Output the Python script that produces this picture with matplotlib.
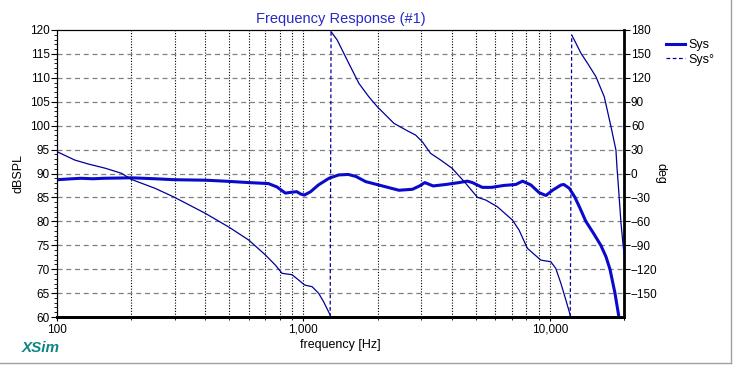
import numpy as np
import matplotlib
matplotlib.use("Agg")
import matplotlib.pyplot as plt
from matplotlib.ticker import FixedLocator, NullFormatter, FixedFormatter
from matplotlib.lines import Line2D

plt.rcParams['font.family'] = ['Liberation Sans', 'DejaVu Sans']

# Magnitude (Sys) dB SPL
mag_f = [100, 115, 125, 140, 155, 200, 250, 300, 400, 480, 600, 720, 780, 845, 900, 940,
         975, 1010, 1070, 1150, 1270, 1390, 1520, 1630, 1790, 2020, 2440, 2770, 2960, 3110,
         3360, 3780, 4280, 4630, 4850, 5320, 5800, 6500, 7270, 7750, 8380, 9050, 9640,
         10260, 11100, 11400, 12000, 12650, 13300, 14000, 15000, 16100, 16900, 17540,
         18380, 19070, 19400]
mag_db = [88.7, 88.9, 89.0, 88.9, 89.0, 89.1, 88.9, 88.7, 88.6, 88.4, 88.1, 87.9, 87.2,
          85.9, 86.1, 86.2, 85.7, 85.5, 86.2, 87.6, 89.0, 89.7, 89.8, 89.4, 88.3, 87.6,
          86.5, 86.7, 87.4, 88.1, 87.4, 87.7, 88.1, 88.4, 88.1, 87.1, 87.1, 87.5, 87.7,
          88.4, 87.6, 86.0, 85.4, 86.5, 87.6, 87.7, 86.9, 85.0, 82.6, 80.0, 77.6, 75.0,
          72.6, 70.0, 65.0, 60.0, 56.0]

# Phase (Sys°) degrees, in three wrapped branches
ph1_f = [100, 118, 134, 157, 183, 200, 250, 300, 400, 500, 600, 700, 769, 819, 900, 956,
         1012, 1085, 1153, 1207, 1284]
ph1_deg = [27.4, 16.9, 11.9, 6.6, 0.2, -7.3, -18.6, -29.9, -50.0, -67.5, -83.5, -102.0,
           -114.8, -125.2, -127.0, -133.6, -139.9, -142.0, -150.3, -160.7, -177.5]
ph2_f = [1295, 1371, 1528, 1679, 1842, 1994, 2330, 2640, 2853, 3036, 3281, 3604, 4018,
         4559, 5085, 5498, 6125, 7050, 7500, 8110, 9190, 10090, 10570, 11090, 11620, 12100]
ph2_deg = [177.9, 167.5, 138.2, 113.1, 96.3, 83.8, 62.9, 53.6, 48.2, 39.9, 25.3, 16.9,
           6.4, -12.4, -29.9, -33.3, -41.7, -58.4, -70.9, -93.9, -108.6, -110.7, -119.0,
           -137.8, -158.8, -177.6]
ph3_f = [12270, 12770, 13380, 14230, 15380, 16630, 17710, 18550, 18720, 18900, 19450,
         19890, 20000]
ph3_deg = [173.7, 163.3, 150.8, 138.2, 121.5, 96.3, 58.7, 29.4, 8.5, -8.2, -62.5, -93.9,
           -100.0]

db_ticks = list(range(60, 121, 5))
deg_ticks = [-150, -120, -90, -60, -30, 0, 30, 60, 90, 120, 150, 180]
freq_major = [100, 1000, 10000]
freq_labels = ["100", "1,000", "10,000"]

MAG_C = '#0A0ACC'
PH_C = '#00009A'

fig = plt.figure(figsize=(7.33, 3.65), dpi=100)
ax = fig.add_axes([57/733, 1-317/365, (624-57)/733, (317-30)/365])
ax.set_xscale('log')
ax.set_xlim(100, 20000)
ax.set_ylim(60, 120)

# grid
grid_f = [m*10**e for e in (2, 3, 4) for m in range(1, 10) if m*10**e <= 20000] + [20000]
for f in grid_f:
    ax.axvline(f, color='black', lw=0.8, ls=(0, (1, 1.5)), zorder=1)
for d in db_ticks[1:-1]:
    ax.axhline(d, color='#808080', lw=0.9, ls=(0, (4, 3)), zorder=1)

ax.plot(mag_f, mag_db, color=MAG_C, lw=2.2, zorder=4, solid_joinstyle='round')

ax2 = ax.twinx()
ax2.set_ylim(-180, 180)
ax2.set_xlim(100, 20000)
for fs, ds in ((ph1_f, ph1_deg), (ph2_f, ph2_deg), (ph3_f, ph3_deg)):
    ax2.plot(fs, ds, color=PH_C, lw=0.9, zorder=3)
# wrap jumps (dashed)
ax2.plot([ph1_f[-1], ph2_f[0]], [-180, 180], color=PH_C, lw=0.9, ls=(0, (3, 2)))
ax2.plot([ph2_f[-1], ph3_f[0]], [-180, ph3_deg[0]], color=PH_C, lw=0.9, ls=(0, (3, 2)))

# axes styling
for a in (ax, ax2):
    a.spines['top'].set_linestyle((0, (1, 1)))
    a.spines['top'].set_color('black')
    a.spines['bottom'].set_linewidth(2)
    a.spines['left'].set_linewidth(0.8)
ax2.spines['right'].set_linewidth(2)

ax.xaxis.set_major_locator(FixedLocator(freq_major))
ax.xaxis.set_major_formatter(FixedFormatter(freq_labels))
ax.xaxis.set_minor_locator(FixedLocator([f for f in grid_f if f not in freq_major]))
ax.xaxis.set_minor_formatter(NullFormatter())
ax.tick_params(axis='x', which='major', length=3, labelsize=8.5, pad=2)
ax.tick_params(axis='x', which='minor', length=2)

ax.yaxis.set_major_locator(FixedLocator(db_ticks))
ax.yaxis.set_minor_locator(FixedLocator(list(range(60, 121))))
ax.tick_params(axis='y', which='major', length=4, labelsize=8.5, pad=1)
ax.tick_params(axis='y', which='minor', length=2)

ax2.yaxis.set_major_locator(FixedLocator(deg_ticks))
ax2.tick_params(axis='y', which='major', length=4, labelsize=8.5, pad=1)

ax.set_xlabel('frequency [Hz]', fontsize=9, labelpad=2)
ax.set_ylabel('dBSPL', fontsize=9, labelpad=4)
ax2.set_ylabel('deg', fontsize=9, rotation=270, labelpad=6)
ax.set_title('Frequency Response (#1)', color='#2828C8', fontsize=10.5, pad=5)

handles = [Line2D([], [], color=MAG_C, lw=2.2),
           Line2D([], [], color=PH_C, lw=0.9, ls=(0, (3, 2)))]
fig.legend(handles, ['Sys', 'Sys°'], loc='upper left', bbox_to_anchor=(666/733, 1-39/365),
           frameon=False, fontsize=9, handlelength=1.5, handletextpad=0.3,
           labelspacing=0.2, borderaxespad=0, borderpad=0)

fig.text(22/733, 1-348/365, 'XSim', color='#0E8585', fontsize=11, fontweight='bold',
         fontstyle='italic', va='center', ha='left')

# figure border (right & bottom)
fig.add_artist(Line2D([730.5/733, 730.5/733], [1-362.5/365, 1], color='#A0A0A0', lw=1,
                      transform=fig.transFigure))
fig.add_artist(Line2D([0, 730.5/733], [1-362.5/365, 1-362.5/365], color='#A0A0A0', lw=1,
                      transform=fig.transFigure))

fig.savefig('out.png', dpi=100)
